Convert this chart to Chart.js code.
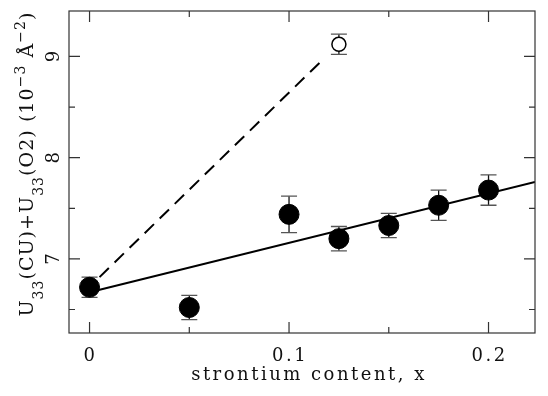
<!DOCTYPE html>
<html>
<head>
<meta charset="utf-8">
<script src="https://cdn.jsdelivr.net/npm/chart.js@4/dist/chart.umd.min.js"></script>
<style>
  body { margin: 0; background: #fff; }
  #wrap { width: 548px; height: 396px; }
</style>
</head>
<body>
<div id="wrap"><canvas id="grafico" width="548" height="396"></canvas></div>
<script>
// datos
const contenidoSr = [0, 0.05, 0.1, 0.125, 0.15, 0.175, 0.2];
const valoresU33 = [6.72, 6.52, 7.44, 7.20, 7.33, 7.53, 7.68];
const erroresU33 = [0.10, 0.12, 0.18, 0.12, 0.12, 0.15, 0.15];
const puntoAbiertoX = [0.125];
const puntoAbiertoY = [9.12];
const puntoAbiertoErr = [0.10];
const ajusteX = [0, 0.2233];
const ajusteY = [6.67, 7.76];
const discontX = [0.005, 0.117];
const discontY = [6.82, 8.97];
const ticksX = [0, 0.1, 0.2];
const ticksXmenor = [0.05, 0.15];
const ticksY = [7, 8, 9];
const ticksYmenor = [6.5, 7.5, 8.5];

const FUENTE = '"DejaVu Serif", serif';

const aPuntos = (xs, ys) => xs.map((x, i) => ({ x: x, y: ys[i] }));

const barrasError = {
  id: 'barrasError',
  beforeDatasetsDraw(chart) {
    const { ctx, scales: { x, y } } = chart;
    ctx.save();
    const dibuja = (xs, ys, es) => {
      xs.forEach((v, i) => {
        const px = x.getPixelForValue(v);
        const top = y.getPixelForValue(ys[i] + es[i]);
        const bot = y.getPixelForValue(ys[i] - es[i]);
        ctx.strokeStyle = '#111';
        ctx.lineWidth = 1.3;
        ctx.beginPath();
        ctx.moveTo(px, top); ctx.lineTo(px, bot);
        ctx.stroke();
        ctx.strokeStyle = '#555';
        ctx.beginPath();
        ctx.moveTo(px - 8, top); ctx.lineTo(px + 8, top);
        ctx.moveTo(px - 8, bot); ctx.lineTo(px + 8, bot);
        ctx.stroke();
      });
    };
    dibuja(contenidoSr, valoresU33, erroresU33);
    dibuja(puntoAbiertoX, puntoAbiertoY, puntoAbiertoErr);
    ctx.restore();
  }
};

const ejes = {
  id: 'ejes',
  afterDraw(chart) {
    const { ctx, chartArea: a, scales: { x, y } } = chart;
    ctx.save();
    ctx.strokeStyle = '#333';
    ctx.lineWidth = 1.2;
    ctx.strokeRect(a.left, a.top, a.right - a.left, a.bottom - a.top);
    ctx.beginPath();
    ticksX.concat(ticksXmenor).forEach(v => {
      const len = ticksX.includes(v) ? 11 : 6;
      const px = x.getPixelForValue(v);
      ctx.moveTo(px, a.bottom); ctx.lineTo(px, a.bottom - len);
      ctx.moveTo(px, a.top); ctx.lineTo(px, a.top + len);
    });
    ticksY.concat(ticksYmenor).forEach(v => {
      const len = ticksY.includes(v) ? 11 : 6;
      const py = y.getPixelForValue(v);
      ctx.moveTo(a.left, py); ctx.lineTo(a.left + len, py);
      ctx.moveTo(a.right, py); ctx.lineTo(a.right - len, py);
    });
    ctx.stroke();

    ctx.fillStyle = '#111';
    ctx.font = '18px ' + FUENTE;
    ctx.letterSpacing = '2.5px';
    ctx.textAlign = 'center';
    ctx.textBaseline = 'middle';
    ticksX.forEach(v => {
      ctx.fillText(String(v), x.getPixelForValue(v) + 1, a.bottom + 23);
    });
    ctx.fillText('strontium content, x', 309, a.bottom + 42);

    // etiquetas del eje y giradas
    ctx.letterSpacing = '0px';
    ticksY.forEach(v => {
      ctx.save();
      ctx.translate(54, y.getPixelForValue(v));
      ctx.rotate(-Math.PI / 2);
      ctx.fillText(String(v), 0, 0);
      ctx.restore();
    });

    // titulo del eje y con subindices
    const partes = [
      ['U', 0], ['33', 1], ['(CU)+U', 0], ['33', 1], ['(O2) (10', 0], ['\u22123', -1],
      [' \u00c5', 0], ['\u22122', -1], [')', 0]
    ];
    const fNormal = '19px ' + FUENTE;
    const fPeq = '14px ' + FUENTE;
    ctx.save();
    ctx.translate(33, 164);
    ctx.rotate(-Math.PI / 2);
    ctx.textAlign = 'left';
    ctx.textBaseline = 'alphabetic';
    let total = 0, nCar = 0;
    partes.forEach(([t, k]) => {
      ctx.font = k === 0 ? fNormal : fPeq;
      total += ctx.measureText(t).width;
      nCar += t.length;
    });
    const esp = Math.max(0, (305 - total) / nCar);
    ctx.letterSpacing = esp.toFixed(2) + 'px';
    total = 0;
    partes.forEach(([t, k]) => {
      ctx.font = k === 0 ? fNormal : fPeq;
      total += ctx.measureText(t).width;
    });
    let cx = -total / 2;
    partes.forEach(([t, k]) => {
      ctx.font = k === 0 ? fNormal : fPeq;
      const dy = k === 1 ? 10 : (k === -1 ? -8 : 0);
      ctx.fillText(t, cx, dy);
      cx += ctx.measureText(t).width;
    });
    ctx.restore();
    ctx.restore();
  }
};

new Chart(document.getElementById('grafico'), {
  type: 'scatter',
  data: {
    datasets: [
      {
        label: 'ajuste',
        data: aPuntos(ajusteX, ajusteY),
        showLine: true,
        borderColor: '#000',
        borderWidth: 2,
        pointRadius: 0
      },
      {
        label: 'discontinua',
        data: aPuntos(discontX, discontY),
        showLine: true,
        borderColor: '#000',
        borderWidth: 2,
        borderDash: [13, 8],
        pointRadius: 0
      },
      {
        label: 'medidas',
        data: aPuntos(contenidoSr, valoresU33),
        backgroundColor: '#000',
        borderColor: '#000',
        pointRadius: 10,
        pointHoverRadius: 10
      },
      {
        label: 'abierto',
        data: aPuntos(puntoAbiertoX, puntoAbiertoY),
        backgroundColor: '#fff',
        borderColor: '#000',
        borderWidth: 1.5,
        pointRadius: 7
      }
    ]
  },
  options: {
    responsive: false,
    animation: false,
    layout: { padding: { left: 69, right: 13, top: 7, bottom: 63 } },
    plugins: { legend: { display: false }, tooltip: { enabled: false } },
    scales: {
      x: { type: 'linear', min: -0.0103, max: 0.2233, display: false },
      y: { type: 'linear', min: 6.268, max: 9.449, display: false }
    }
  },
  plugins: [barrasError, ejes]
});
</script>
</body>
</html>
